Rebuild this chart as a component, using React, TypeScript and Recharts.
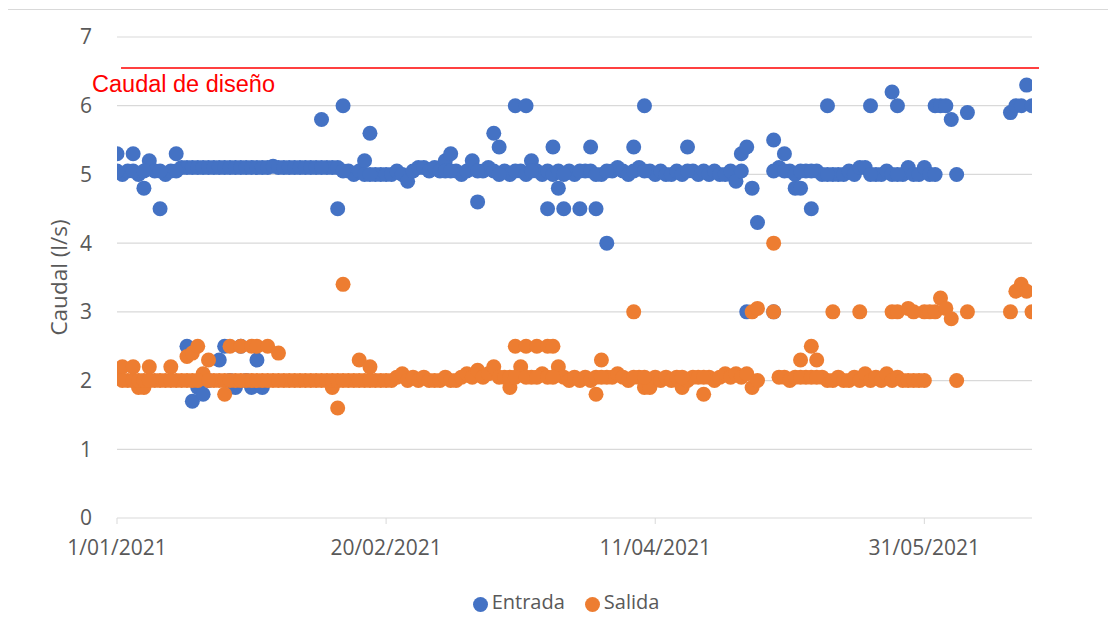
import React from "react";
import { ScatterChart, Scatter, XAxis, YAxis, CartesianGrid, ReferenceLine, Legend } from "recharts";

const AZUL = "#4472C4";
const NARANJA = "#ED7D31";
const GRIS = "#595959";

// Caudal de entrada (l/s), un valor por día desde el 1/01/2021 (null = sin dato)
const entradaDiaria: (number | null)[] = [
  5.3, 5.0, 5.05, 5.3, 5.0, 4.8, 5.2, 5.05, 4.5, 5.0,
  5.05, 5.3, 5.1, 5.1, 5.1, 5.1, 5.1, 5.1, 5.1, 5.1,
  5.1, 5.1, 5.1, 5.1, 5.1, 5.1, 5.1, 5.1, 5.1, 5.12,
  5.1, 5.1, 5.1, 5.1, 5.1, 5.1, 5.1, 5.1, 5.8, 5.1,
  5.1, 4.5, 6.0, 5.05, 5.0, 5.05, 5.2, 5.6, 5.0, 5.0,
  5.0, 5.0, 5.05, 5.0, 4.9, 5.05, 5.1, 5.1, 5.05, 5.1,
  5.05, 5.2, 5.3, 5.05, 5.0, 5.05, 5.2, 4.6, 5.05, 5.1,
  5.6, 5.4, 5.05, 5.0, 6.0, 5.05, 6.0, 5.2, 5.05, 5.0,
  4.5, 5.4, 4.8, 4.5, 5.05, 5.0, 4.5, 5.05, 5.4, 4.5,
  5.0, 4.0, 5.05, 5.1, 5.05, 5.0, 5.4, 5.1, 6.0, 5.05,
  5.0, 5.05, 5.0, 5.0, 5.05, 5.0, 5.4, 5.05, 5.0, 5.05,
  5.0, 5.05, 5.0, 5.0, 5.05, 4.9, 5.3, 5.4, 4.8, 4.3,
  null, null, 5.5, 5.1, 5.3, 5.05, 4.8, 4.8, 5.05, 4.5,
  5.05, 5.0, 6.0, 5.0, 5.0, 5.0, 5.05, 5.0, 5.1, 5.1,
  6.0, 5.0, 5.0, 5.05, 6.2, 6.0, 5.0, 5.1, 5.0, 5.0,
  5.1, 5.0, 6.0, 6.0, 6.0, 5.8, 5.0, null, 5.9, null,
  null, null, null, null, null, null, 5.9, 6.0, 6.0, 6.3,
  6.0,
];

// Lecturas adicionales de entrada [día, caudal]
const entradaExtra: [number, number][] = [
  [0, 5.05], [3, 5.05], [5, 5.05], [8, 5.05], [11, 5.05],
  [13, 2.5], [14, 1.7], [15, 1.9], [16, 1.8], [17, 2.0], [19, 2.3], [20, 2.5],
  [21, 2.0], [22, 1.9], [23, 2.5], [24, 2.0], [25, 1.9], [26, 2.3], [27, 1.9],
  [38, 5.1], [41, 5.1], [42, 5.05], [46, 5.0], [47, 5.0], [61, 5.05], [62, 5.05],
  [67, 5.05], [70, 5.05], [71, 5.0], [74, 5.05], [76, 5.0], [77, 5.05],
  [80, 5.05], [81, 5.0], [82, 5.05], [83, 5.0], [86, 5.05], [88, 5.05], [89, 5.0],
  [91, 5.05], [96, 5.05], [98, 5.05], [106, 5.05], [116, 5.05], [117, 3.0],
  [122, 3.0], [122, 5.05], [124, 5.05], [126, 5.0], [127, 5.05], [129, 5.05],
  [132, 5.0], [140, 5.0], [144, 5.0], [145, 5.0], [152, 5.0],
];

// Caudal de salida (l/s), un valor por día desde el 1/01/2021 (null = sin dato)
const salidaDiaria: (number | null)[] = [
  2.1, 2.2, 2.0, 2.2, 1.9, 1.9, 2.2, 2.0, 2.0, 2.0,
  2.2, 2.0, 2.0, 2.35, 2.4, 2.5, 2.1, 2.3, 2.0, 2.0,
  1.8, 2.5, 2.0, 2.5, 2.0, 2.5, 2.5, 2.0, 2.5, 2.0,
  2.4, 2.0, 2.0, 2.0, 2.0, 2.0, 2.0, 2.0, 2.0, 2.0,
  1.9, 1.6, 3.4, 2.0, 2.0, 2.3, 2.0, 2.2, 2.0, 2.0,
  2.0, 2.0, 2.05, 2.1, 2.0, 2.05, 2.0, 2.05, 2.0, 2.0,
  2.0, 2.05, 2.0, 2.0, 2.05, 2.1, 2.05, 2.15, 2.05, 2.1,
  2.2, 2.05, 2.05, 1.9, 2.5, 2.2, 2.5, 2.05, 2.5, 2.1,
  2.5, 2.5, 2.2, 2.05, 2.0, 2.05, 2.0, 2.05, 2.0, 1.8,
  2.3, 2.05, 2.05, 2.1, 2.05, 2.0, 3.0, 2.05, 1.9, 1.9,
  2.05, 2.0, 2.05, 2.0, 2.05, 1.9, 2.0, 2.05, 2.05, 1.8,
  2.05, 2.0, 2.05, 2.1, 2.05, 2.1, 2.05, 2.1, 1.9, 2.0,
  null, null, 4.0, 2.05, 2.05, 2.0, 2.05, 2.3, 2.05, 2.5,
  2.3, 2.05, 2.0, 2.0, 2.05, 2.0, 2.0, 2.05, 2.0, 2.1,
  2.0, 2.05, 2.0, 2.1, 2.0, 2.05, 2.0, 2.0, 2.0, 2.0,
  3.0, 3.0, 3.0, 3.2, 3.05, 2.9, 2.0, null, 3.0, null,
  null, null, null, null, null, null, 3.0, 3.3, 3.4, 3.3,
  3.0,
];

// Lecturas adicionales de salida [día, caudal]
const salidaExtra: [number, number][] = [
  [1, 2.0], [3, 2.0], [4, 2.0], [5, 2.0], [6, 2.0], [10, 2.0], [13, 2.0], [14, 2.0],
  [15, 2.0], [17, 2.0], [20, 2.0], [21, 2.0], [23, 2.0], [25, 2.0], [26, 2.0],
  [28, 2.0], [30, 2.0], [40, 2.0], [41, 2.0], [42, 2.0], [45, 2.0], [47, 2.0],
  [73, 2.05], [74, 2.05], [76, 2.05], [78, 2.05], [80, 2.05], [81, 2.05],
  [89, 2.05], [90, 2.05], [96, 2.05], [98, 2.05], [105, 2.05], [109, 2.05],
  [118, 3.0], [119, 3.05], [122, 3.0], [127, 2.05], [129, 2.05], [130, 2.05],
  [133, 3.0], [138, 3.0], [144, 3.0], [145, 3.0], [147, 3.05], [148, 3.0],
  [150, 2.0],
];

const CAUDAL_DISENO = 6.55;
const xTicks = [0, 50, 100, 150];
const yTicks = [0, 1, 2, 3, 4, 5, 6, 7];

function toPoints(diaria: (number | null)[], extra: [number, number][]) {
  const pts: { x: number; y: number }[] = [];
  diaria.forEach((v, i) => {
    if (v !== null) pts.push({ x: i, y: v });
  });
  extra.forEach(([d, v]) => pts.push({ x: d, y: v }));
  return pts;
}

function formatDate(day: number): string {
  const d = new Date(2021, 0, 1 + day);
  return `${d.getDate()}/${String(d.getMonth() + 1).padStart(2, "0")}/${d.getFullYear()}`;
}

const dot = (color: string) => (props: any) => (
  <circle cx={props.cx} cy={props.cy} r={7.5} fill={color} />
);

export default function App() {
  const entrada = toPoints(entradaDiaria, entradaExtra);
  const salida = toPoints(salidaDiaria, salidaExtra);

  return (
    <div
      style={{
        position: "relative",
        left: -1,
        top: 1,
        width: 1100,
        height: 620,
        borderLeft: "1px solid #D9D9D9",
        borderTop: "1px solid #D9D9D9",
        fontFamily: "'Open Sans', sans-serif",
        background: "#fff",
      }}
    >
      <ScatterChart width={1100} height={620} margin={{ top: 27, right: 76, bottom: 52, left: 0 }}>
        <CartesianGrid vertical={false} stroke="#D9D9D9" strokeWidth={1.2} />
        <XAxis
          dataKey="x"
          type="number"
          domain={[0, 170]}
          ticks={xTicks}
          tickFormatter={formatDate}
          allowDataOverflow
          axisLine={false}
          tickLine={{ stroke: "#D9D9D9" }}
          tickSize={6}
          tickMargin={16}
          height={60}
          tick={{ fill: GRIS, fontSize: 21 }}
        />
        <YAxis
          dataKey="y"
          type="number"
          domain={[0, 7]}
          ticks={yTicks}
          allowDataOverflow
          axisLine={false}
          tickLine={false}
          width={109}
          tickMargin={19}
          tick={{ fill: GRIS, fontSize: 21 }}
          label={{
            value: "Caudal (l/s)",
            angle: -90,
            position: "center",
            dx: -3.5,
            fill: GRIS,
            fontSize: 22.5,
          }}
        />
        <Scatter name="Entrada" data={entrada} fill={AZUL} shape={dot(AZUL)} isAnimationActive={false} />
        <Scatter name="Salida" data={salida} fill={NARANJA} shape={dot(NARANJA)} isAnimationActive={false} />
        <ReferenceLine
          segment={[
            { x: 0.75, y: CAUDAL_DISENO },
            { x: 171.3, y: CAUDAL_DISENO },
          ]}
          stroke="#FF0000"
          strokeWidth={1.5}
          ifOverflow="visible"
          label={{
            content: (p: any) => (
              <text
                x={p.viewBox.x - 29}
                y={p.viewBox.y + 24}
                fill="#FF0000"
                fontSize={23.5}
                fontFamily="'Liberation Sans', Arial, sans-serif"
              >
                Caudal de diseño
              </text>
            ),
          }}
        />
        <Legend
          layout="horizontal"
          verticalAlign="middle"
          align="center"
          iconType="circle"
          iconSize={15}
          wrapperStyle={{ top: 578, left: 0, width: 1136 }}
          formatter={(value: string) => (
            <span style={{ color: GRIS, fontSize: 20, marginRight: 10 }}>{value}</span>
          )}
        />
      </ScatterChart>
    </div>
  );
}
